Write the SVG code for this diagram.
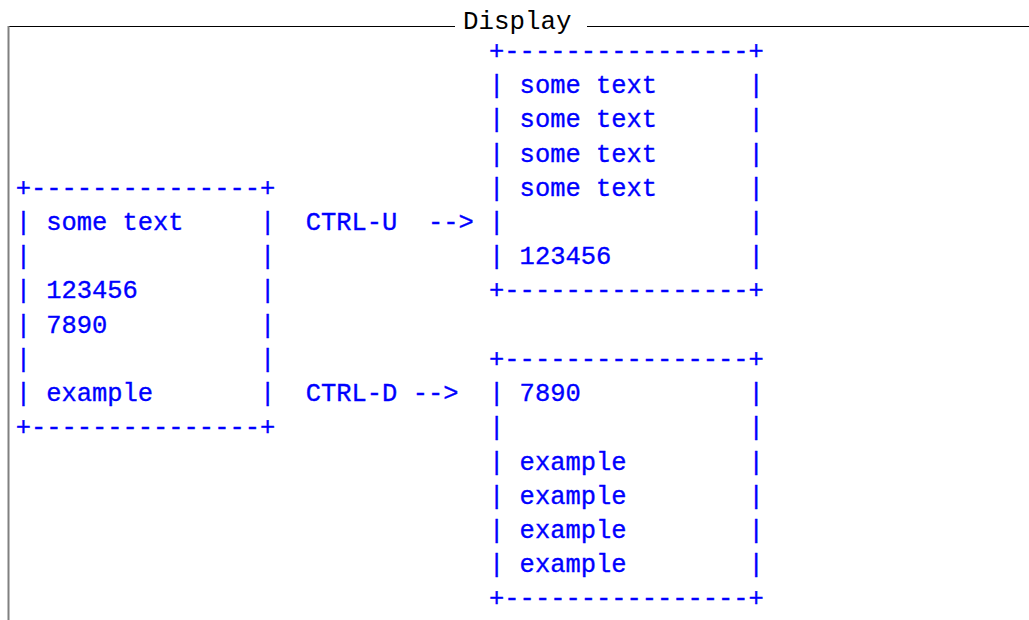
<svg xmlns="http://www.w3.org/2000/svg" width="1029" height="620" viewBox="0 0 1029 620">
<style>
.t{font-family:"Liberation Mono","DejaVu Sans Mono",monospace;font-size:25.45px;fill:#0000ff;stroke:#0000ff;stroke-width:0.35;white-space:pre}
.h{font-family:"Liberation Mono","DejaVu Sans Mono",monospace;font-size:25.8px;fill:#000000;white-space:pre}
</style>
<rect width="1029" height="620" fill="#ffffff"/>
<g id="frame">
<line x1="8" y1="26.5" x2="455" y2="26.5" stroke="#000000" stroke-width="1.2"/>
<line x1="587" y1="26.5" x2="1029" y2="26.5" stroke="#000000" stroke-width="1.2"/>
<line x1="8.5" y1="26" x2="8.5" y2="620" stroke="#808080" stroke-width="2"/>
<text class="h" x="463" y="28.5">Display</text>
</g>
<g id="left-box" xml:space="preserve">
<text class="t" x="15.7" y="195.8">+---------------+</text>
<text class="t" x="15.7" y="230.0">| some text     |</text>
<text class="t" x="15.7" y="264.2">|               |</text>
<text class="t" x="15.7" y="298.4">| 123456        |</text>
<text class="t" x="15.7" y="332.7">| 7890          |</text>
<text class="t" x="15.7" y="366.9">|               |</text>
<text class="t" x="15.7" y="401.1">| example       |</text>
<text class="t" x="15.7" y="435.3">+---------------+</text>
</g>
<g id="right-top-box" xml:space="preserve">
<text class="t" x="489.1" y="58.9">+----------------+</text>
<text class="t" x="489.1" y="93.1">| some text      |</text>
<text class="t" x="489.1" y="127.3">| some text      |</text>
<text class="t" x="489.1" y="161.6">| some text      |</text>
<text class="t" x="489.1" y="195.8">| some text      |</text>
<text class="t" x="489.1" y="230.0">|                |</text>
<text class="t" x="489.1" y="264.2">| 123456         |</text>
<text class="t" x="489.1" y="298.4">+----------------+</text>
</g>
<g id="right-bottom-box" xml:space="preserve">
<text class="t" x="489.1" y="366.9">+----------------+</text>
<text class="t" x="489.1" y="401.1">| 7890           |</text>
<text class="t" x="489.1" y="435.3">|                |</text>
<text class="t" x="489.1" y="469.5">| example        |</text>
<text class="t" x="489.1" y="503.8">| example        |</text>
<text class="t" x="489.1" y="538.0">| example        |</text>
<text class="t" x="489.1" y="572.2">| example        |</text>
<text class="t" x="489.1" y="606.4">+----------------+</text>
</g>
<g id="connectors" xml:space="preserve">
<text class="t" x="305.8" y="230.0">CTRL-U  --></text>
<text class="t" x="305.8" y="401.1">CTRL-D --></text>
</g>
</svg>
